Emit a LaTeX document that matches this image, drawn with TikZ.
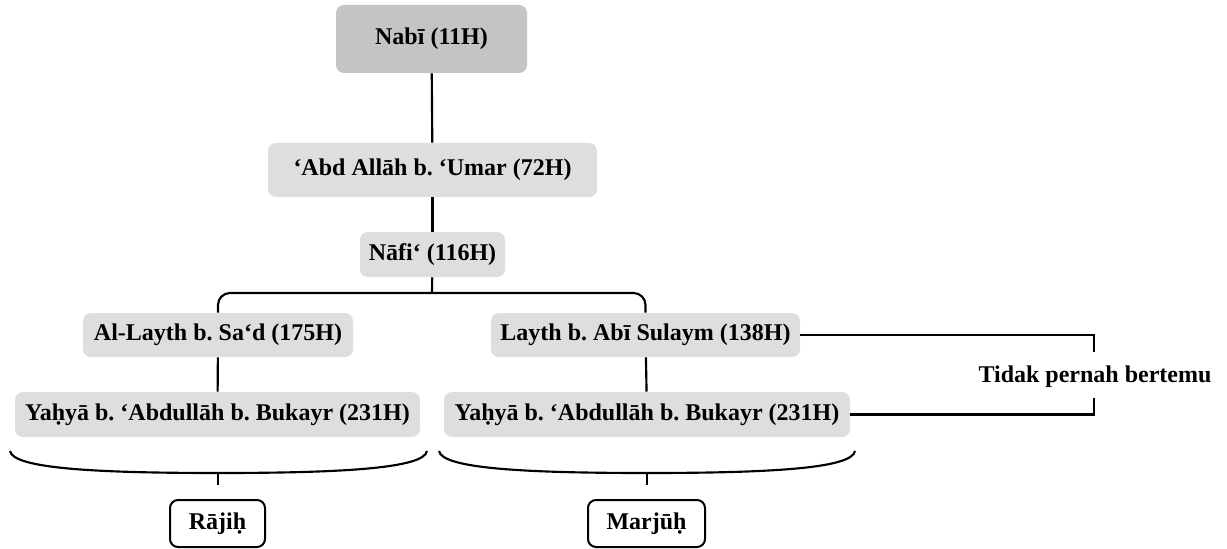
\documentclass[tikz,border=0pt]{standalone}
\usepackage{fontspec}
\setmainfont{Liberation Serif}
\frenchspacing
\definecolor{boxdark}{RGB}{196,196,196}
\definecolor{boxlight}{RGB}{222,222,222}
\tikzset{
  base/.style={rounded corners=6pt, inner sep=0pt, align=center,
    font=\fontsize{18}{21}\selectfont\bfseries\frenchspacing},
  darkbox/.style={base, fill=boxdark},
  lightbox/.style={base, fill=boxlight},
  verdict/.style={base, draw=black, line width=1.5pt, fill=white},
  link/.style={line width=1.6pt, draw=black},
}
\begin{document}
\begin{tikzpicture}[x=0.75pt, y=-0.75pt]
\useasboundingbox (0,0) rectangle (1227,549);
\node[darkbox, minimum width=143.25pt, minimum height=51pt] (nabi) at (431.5,39) {Nabī (11H)};
\node[lightbox, minimum width=246.75pt, minimum height=40.5pt] (abd) at (432.5,170) {‘Abd Allāh b. ‘Umar (72H)};
\node[lightbox, minimum width=108.75pt, minimum height=33.75pt] (nafi) at (432.5,254.5) {Nāfi‘ (116H)};
\node[lightbox, minimum width=202.5pt, minimum height=33pt] (alayth) at (218,335) {Al-Layth b. Sa‘d (175H)};
\node[lightbox, minimum width=303.75pt, minimum height=33.75pt] (yl) at (217.5,414.5) {Yaḥyā b. ‘Abdullāh b. Bukayr (231H)};
\node[lightbox, minimum width=231.75pt, minimum height=33pt] (layth) at (645.5,335) {Layth b. Abī Sulaym (138H)};
\node[lightbox, minimum width=304.5pt, minimum height=33.75pt] (yr) at (647,414.5) {Yaḥyā b. ‘Abdullāh b. Bukayr (231H)};
\node[verdict, minimum width=71.25pt, minimum height=35.25pt] (rajih) at (217.5,523.5) {Rājiḥ};
\node[verdict, minimum width=87.75pt, minimum height=35.25pt] (marjuh) at (646.5,523.5) {Marjūḥ};
\node[base, inner sep=0pt] (tidak) at (1095,377) {Tidak pernah bertemu};

\coordinate (fork) at (432,293);
\coordinate (bt) at (1094,352);
\coordinate (bb) at (1094,398);
\coordinate (lstem) at (218,485);
\coordinate (rstem) at (647,485);

\draw[link] (nabi) -- (abd);
\draw[link] (abd) -- (nafi);
\draw[link] (nafi) -- (fork);
\draw[link, rounded corners=9pt] (alayth.north) |- (fork) -| (layth.north);
\draw[link] (alayth) -- (yl);
\draw[link] (layth) -- (yr);
\draw[link] (layth.east) -| (bt);
\draw[link] (yr.east) -| (bb);

\draw[link] (10,451) .. controls (13,468) and (90,473) .. (218,473)
  .. controls (346,473) and (424,468) .. (427,451);
\draw[link] (218,473) -- (lstem);
\draw[link] (439,451) .. controls (442,468) and (519,473) .. (647,473)
  .. controls (775,473) and (852,468) .. (855,451);
\draw[link] (647,473) -- (rstem);
\end{tikzpicture}
\end{document}
